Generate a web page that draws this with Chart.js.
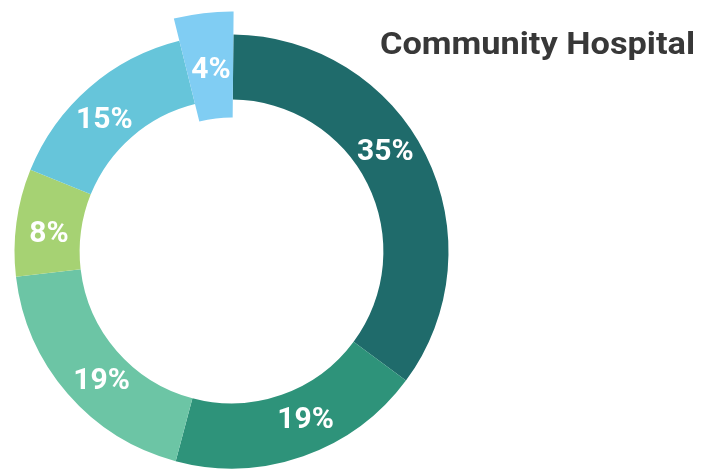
<!DOCTYPE html>
<html>
<head>
<meta charset="utf-8">
<script src="https://cdn.jsdelivr.net/npm/chart.js@4.4.0/dist/chart.umd.min.js"></script>
<style>
  body { margin: 0; background: #fff; }
  #wrap { width: 703px; height: 470px; }
</style>
</head>
<body>
<div id="wrap"><canvas id="myChart"></canvas></div>
<script>
const chartTitle = "Community Hospital";
const categories = ["A", "B", "C", "D", "E", "F"];
const shares = [35, 19, 19, 8, 15, 4];
const colors = ["#1f6b6b", "#2e937a", "#6cc5a5", "#a6d273", "#66c5da", "#80cdf3"];

// highlighted slice: ring grows outward and inward (px)
const highlightIndex = 5;
const growOut = 23;
const growIn = 18;
// small angular nudges for the labels, degrees
const labelNudge = [-6.5, -4.5, -4, -2, -3, 0.3];

const ctx = document.getElementById("myChart");

const highlightPlugin = {
  id: "highlightSlice",
  afterDatasetsUpdate: (chart) => {
    const arc = chart.getDatasetMeta(0).data[highlightIndex];
    if (arc) {
      arc.outerRadius += growOut;
      arc.innerRadius -= growIn;
    }
  },
};

// labels inside each slice + the title on the right
const labelPlugin = {
  id: "sliceLabels",
  afterDatasetsDraw: (chart) => {
    const c = chart.ctx;
    const meta = chart.getDatasetMeta(0);
    const ref = meta.data[0];
    const r = (ref.innerRadius + ref.outerRadius) / 2 - 1;
    c.save();
    c.fillStyle = "#ffffff";
    c.font = "bold 30px Roboto";
    c.textAlign = "center";
    c.textBaseline = "middle";
    meta.data.forEach((arc, i) => {
      const mid = (arc.startAngle + arc.endAngle) / 2 + (labelNudge[i] * Math.PI) / 180;
      c.fillText(shares[i] + "%", arc.x + Math.cos(mid) * r, arc.y + Math.sin(mid) * r + 1);
    });
    c.restore();

    c.save();
    c.fillStyle = "#383838";
    c.font = "bold 31px Roboto";
    c.textBaseline = "alphabetic";
    const w = c.measureText(chartTitle).width;
    c.translate(380, 54);
    c.scale(315 / w, 1);
    c.fillText(chartTitle, 0, 0);
    c.restore();
  },
};

new Chart(ctx, {
  type: "doughnut",
  data: {
    labels: categories,
    datasets: [
      {
        data: shares,
        backgroundColor: colors,
        borderWidth: 0,
        hoverOffset: 0,
      },
    ],
  },
  options: {
    responsive: true,
    maintainAspectRatio: false,
    animation: false,
    events: [],
    cutout: "70%",
    radius: 217,
    rotation: 0.5,
    layout: {
      padding: { left: 15, right: 255, top: 35, bottom: 2 },
    },
    plugins: {
      legend: { display: false },
      tooltip: { enabled: false },
      title: { display: false },
    },
  },
  plugins: [highlightPlugin, labelPlugin],
});
</script>
</body>
</html>
